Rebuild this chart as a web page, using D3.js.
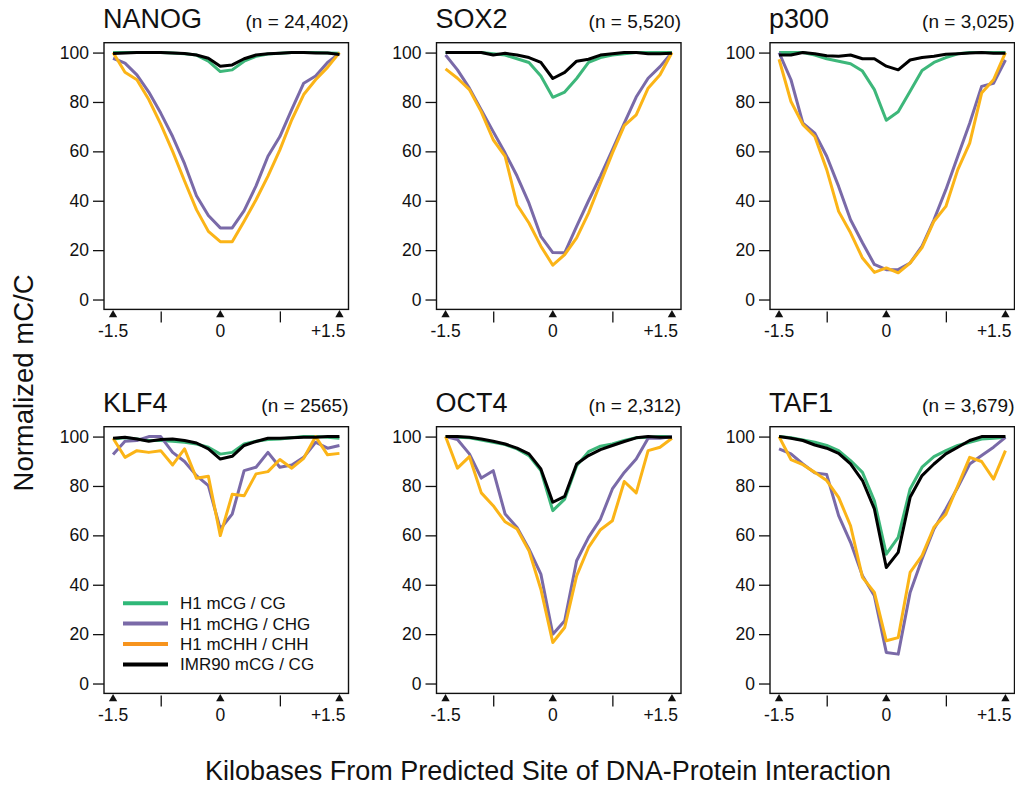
<!DOCTYPE html>
<html>
<head>
<meta charset="utf-8">
<script src="https://cdn.jsdelivr.net/npm/d3@7"></script>
<style>
  body { margin: 0; background: #fff; }
  text { font-family: "Liberation Sans", Arial, Helvetica, sans-serif; fill: #111; }
</style>
</head>
<body>
<div id="chart-area"></div>
<script>
// 20 bins across the +/-1.5 kb window, bin 9 is the predicted site
const bins = [0, 1, 2, 3, 4, 5, 6, 7, 8, 9, 10, 11, 12, 13, 14, 15, 16, 17, 18, 19]
const xTickBins = [0, 9, 19]
const xTickLabels = ["-1.5", "0", "+1.5"]
const xMinorBins = [4, 14]
const yTicks = [0, 20, 40, 60, 80, 100]

const seriesNames = ["H1 mCG / CG", "H1 mCHG / CHG", "H1 mCHH / CHH", "IMR90 mCG / CG"]
const seriesColors = ["#3db77a", "#7a6aa8", "#fbb417", "#000000"]
const legendColors = ["#2fb878", "#7a6aa8", "#f7941d", "#000000"]

const factors = ["NANOG", "SOX2", "p300", "KLF4", "OCT4", "TAF1"]
const counts = ["(n = 24,402)", "(n = 5,520)", "(n = 3,025)", "(n = 2565)", "(n = 2,312)", "(n = 3,679)"]

// values per factor: CG, CHG, CHH (H1) and CG (IMR90)
const nanogCG   = [100, 100, 100, 100, 100, 99.8, 99.5, 99, 96.5, 92.3, 93, 96.5, 98.5, 99.4, 99.7, 100, 100, 100, 99.8, 99.7]
const nanogCHG  = [97.7, 95.7, 91, 84, 75.5, 66, 55, 42, 34, 29, 29, 36, 46, 58, 66, 77, 87.6, 90.5, 96, 99.7]
const nanogCHH  = [100, 92, 89, 81, 71, 60, 48, 36.4, 27.6, 23.4, 23.4, 31.7, 40.4, 50, 60.6, 72.8, 83, 89, 94, 100]
const nanogIMR  = [99.6, 99.8, 100, 100, 100, 99.8, 99.6, 99, 97.7, 94.5, 95, 97.5, 99, 99.5, 99.7, 100, 100, 99.8, 99.8, 99.2]

const sox2CG    = [100, 100, 100, 100, 99.5, 99, 97.5, 96, 90.5, 81.9, 84, 89.5, 96, 98, 99, 99.5, 100, 100, 100, 100]
const sox2CHG   = [99, 93, 85.6, 76.8, 68, 59.3, 50, 39, 25.6, 19, 18.9, 29.6, 40, 50, 60.6, 71.4, 82, 89.6, 94.3, 100]
const sox2CHH   = [93.4, 89.6, 85, 76, 64.7, 58, 38.4, 31, 21.6, 13.9, 18.2, 25, 35, 47.2, 59.3, 70.4, 74.8, 85.6, 91, 100]
const sox2IMR   = [100, 100, 100, 100, 99, 99.7, 99, 98, 96, 89.5, 92, 96.5, 97.3, 99, 99.5, 100, 100, 99.5, 99.5, 99.7]

const p300CG    = [100, 100, 100, 99, 97.5, 96.5, 95.5, 92.5, 85, 72.6, 76, 84.3, 92.7, 96, 98, 99.5, 100, 100, 100, 100]
const p300CHG   = [100, 89, 71.4, 67.4, 58, 45.8, 32.3, 23, 14.2, 12.1, 12.1, 14.8, 21.6, 32.3, 44.5, 58, 71.4, 86.3, 87.6, 97]
const p300CHH   = [97.3, 80.2, 70.8, 66, 52.6, 35.7, 27, 16.8, 11, 12.8, 10.8, 14.8, 21, 31.7, 37.7, 52.6, 63.3, 83.6, 89, 100]
const p300IMR   = [99, 99, 100, 99.5, 98.7, 98.5, 99, 97.5, 97.5, 94.5, 93, 97, 98, 98.5, 99.3, 99.5, 99.8, 100, 99.7, 99.7]

const klf4CG    = [99, 99.5, 99, 98.4, 98.4, 98.1, 97.7, 97, 95.7, 92.9, 93.6, 97, 98.1, 98.8, 99, 99.5, 100, 100, 99.7, 99.3]
const klf4CHG   = [92.7, 98.1, 98.4, 100, 100, 93.6, 89.9, 84.2, 80.1, 62.6, 68.6, 86.2, 87.6, 93.6, 87.6, 88.5, 91.6, 97.7, 95.3, 96.4]
const klf4CHH   = [99.3, 91.6, 94.3, 93.6, 94.3, 88.5, 95, 83.1, 83.9, 59.9, 76.6, 76, 84.9, 85.8, 90.7, 87.2, 91.2, 100, 92.6, 93.2]
const klf4IMR   = [99.3, 99.7, 99, 98.1, 98.8, 99, 98.4, 97.4, 95, 90.9, 92, 96.4, 98, 99.3, 99.3, 99.5, 99.7, 99.7, 100, 100]

const oct4CG    = [100, 99.7, 99.5, 98.6, 97.7, 96.8, 95, 92.3, 86.2, 70, 74.7, 88.2, 93.9, 96.1, 97, 98.4, 99.5, 99.7, 100, 100]
const oct4CHG   = [100, 98.8, 93, 83.2, 86.2, 68.6, 63.2, 54.5, 44.3, 20, 25.4, 49.7, 59.2, 66.6, 78.8, 85.5, 90.9, 99.3, 99.3, 100]
const oct4CHH   = [100, 87.2, 91.9, 77.2, 72, 65.5, 62.6, 53.8, 38.2, 16.6, 22.7, 43.6, 55.1, 62.3, 65.9, 81.8, 77.2, 94.3, 95.7, 99.3]
const oct4IMR   = [100, 100, 99.7, 99, 98.1, 97, 95.3, 93, 86.9, 73.4, 75.8, 88.9, 92.3, 94.7, 96.4, 98, 99.5, 100, 99.7, 99.7]

const taf1CG    = [100, 99.5, 98.6, 97.7, 96.4, 94.3, 90.3, 85.5, 74, 52.4, 59.2, 78.8, 87.6, 91.9, 94.3, 96.4, 97.7, 99, 99.3, 99.7]
const taf1CHG   = [95, 93, 88.9, 85.3, 84.6, 68, 57.2, 43.6, 35.5, 12.6, 11.9, 36.9, 50.4, 62.6, 70.7, 79.5, 88.9, 92.3, 95.7, 99.7]
const taf1CHH   = [100, 90.7, 88.6, 85.5, 82.2, 75.4, 63.9, 43, 36.9, 17.3, 18.6, 45, 51.8, 63.3, 68.6, 80.1, 91.6, 89.9, 82.8, 94.3]
const taf1IMR   = [100, 99.3, 98.4, 96.6, 95.3, 93.2, 88.9, 82.2, 70.7, 47, 53.1, 75.4, 84.2, 88.9, 93, 95.7, 98.4, 100, 100, 100]

const panelSeries = [
  [nanogCG, nanogCHG, nanogCHH, nanogIMR],
  [sox2CG, sox2CHG, sox2CHH, sox2IMR],
  [p300CG, p300CHG, p300CHH, p300IMR],
  [klf4CG, klf4CHG, klf4CHH, klf4IMR],
  [oct4CG, oct4CHG, oct4CHH, oct4IMR],
  [taf1CG, taf1CHG, taf1CHH, taf1IMR]
]

const COL_X = [104, 436.5, 770]
const ROW_Y = [42.7, 426.7]
const WIDTH = 244.5
const HEIGHT = 266.7

const svg = d3.select("#chart-area").append("svg")
  .attr("width", 1015)
  .attr("height", 788)

// R-style 4% padding on both axes
const x = d3.scaleLinear().domain([-0.76, 19.76]).range([0, WIDTH])
const y = d3.scaleLinear().domain([-4, 104]).range([HEIGHT, 0])

const line = d3.line()
  .x((d, i) => x(bins[i]))
  .y(d => y(d))

factors.forEach((name, p) => {
  const g = svg.append("g")
    .attr("transform", `translate(${COL_X[p % 3]}, ${ROW_Y[Math.floor(p / 3)]})`)

  // titles
  g.append("text")
    .attr("x", -1)
    .attr("y", -15)
    .attr("font-size", "27px")
    .text(name)
  g.append("text")
    .attr("x", WIDTH)
    .attr("y", -15)
    .attr("font-size", "19px")
    .attr("text-anchor", "end")
    .text(counts[p])

  // y axis
  const yAxis = g.append("g")
    .call(d3.axisLeft(y).tickValues(yTicks).tickSize(11).tickPadding(4))
  yAxis.select(".domain").remove()
  yAxis.selectAll("line").attr("stroke", "#111").attr("stroke-width", 1.3)
  yAxis.selectAll("text").attr("font-size", "17.5px").attr("font-family", "Liberation Sans, Arial, sans-serif").attr("fill", "#111")

  // x axis: plain ticks plus triangle markers
  const xAxis = g.append("g")
    .attr("transform", `translate(0, ${HEIGHT + 2})`)
    .call(d3.axisBottom(x).tickValues(xMinorBins).tickSize(11).tickFormat(""))
  xAxis.select(".domain").remove()
  xAxis.selectAll("line").attr("stroke", "#111").attr("stroke-width", 1.3)

  g.selectAll(".tri")
    .data(xTickBins)
    .enter().append("path")
    .attr("class", "tri")
    .attr("d", d3.symbol(d3.symbolTriangle, 30)())
    .attr("transform", d => `translate(${x(d)}, ${HEIGHT + 5.5})`)
    .attr("fill", "#111")

  g.selectAll(".xlab")
    .data(xTickBins)
    .enter().append("text")
    .attr("class", "xlab")
    .attr("x", (d, i) => i === 2 ? x(d) + 6 : x(d))
    .attr("y", HEIGHT + 28)
    .attr("font-size", "17.5px")
    .attr("text-anchor", (d, i) => i === 2 ? "end" : "middle")
    .text((d, i) => xTickLabels[i])

  // series lines
  g.selectAll(".series")
    .data(panelSeries[p])
    .enter().append("path")
    .attr("class", "series")
    .attr("d", line)
    .attr("fill", "none")
    .attr("stroke", (d, i) => seriesColors[i])
    .attr("stroke-width", 3)
    .attr("stroke-linejoin", "round")

  // plot box
  g.append("rect")
    .attr("width", WIDTH)
    .attr("height", HEIGHT)
    .attr("fill", "none")
    .attr("stroke", "#111")
    .attr("stroke-width", 1.4)

  // legend sits in the KLF4 panel
  if (name === "KLF4") {
    const leg = g.selectAll(".leg")
      .data(seriesNames)
      .enter().append("g")
      .attr("class", "leg")
      .attr("transform", (d, i) => `translate(19, ${176.5 + i * 20.4})`)
    leg.append("line")
      .attr("x1", 0).attr("x2", 45)
      .attr("stroke", (d, i) => legendColors[i])
      .attr("stroke-width", 4)
    leg.append("text")
      .attr("x", 57)
      .attr("y", 6)
      .attr("font-size", "17px")
      .text(d => d)
  }
})

// shared axis titles
svg.append("text")
  .attr("transform", "translate(33, 383) rotate(-90)")
  .attr("text-anchor", "middle")
  .attr("font-size", "27.5px")
  .text("Normalized mC/C")

svg.append("text")
  .attr("x", 548)
  .attr("y", 780)
  .attr("text-anchor", "middle")
  .attr("font-size", "27px")
  .text("Kilobases From Predicted Site of DNA-Protein Interaction")
</script>
</body>
</html>
